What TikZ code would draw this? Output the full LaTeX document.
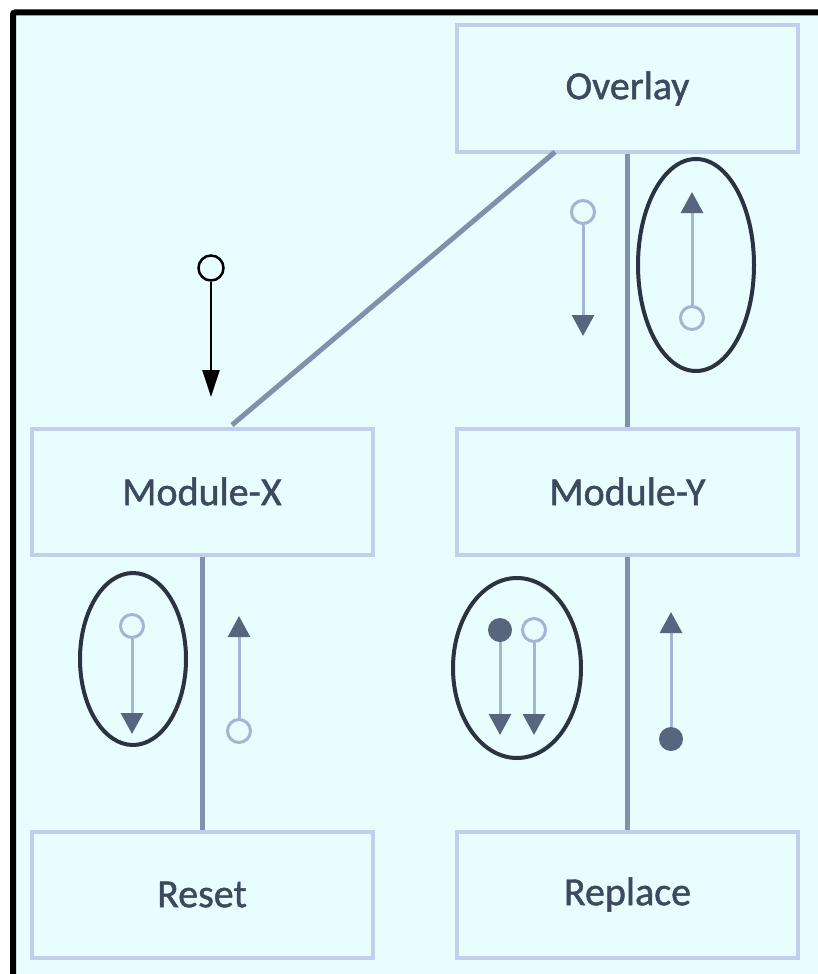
\documentclass[tikz,border=0pt]{standalone}
\usepackage{fontspec}
\setmainfont{Carlito}
\newfontfamily\boxfont[FakeBold=1.2]{Carlito}
\usetikzlibrary{arrows.meta}
\definecolor{bgc}{HTML}{E8FDFD}
\definecolor{boxc}{HTML}{C2CFEC}
\definecolor{conc}{HTML}{8190AD}
\definecolor{shaftc}{HTML}{A3B4D8}
\definecolor{headc}{HTML}{58657E}
\definecolor{ellc}{HTML}{2C3242}
\definecolor{txtc}{HTML}{3E495F}
\tikzset{
  box/.style={draw=boxc, line width=4pt, fill=bgc, minimum width=341pt, minimum height=126pt,
    text=txtc, font=\boxfont\fontsize{40}{48}\selectfont, inner sep=0pt},
  conn/.style={draw=conc, line width=5pt},
  opendot/.style={circle, draw=shaftc, line width=3pt, fill=bgc, minimum size=23pt, inner sep=0pt},
  fulldot/.style={circle, fill=headc, minimum size=24pt, inner sep=0pt},
  shaft/.style={draw=shaftc, line width=3pt, -{Triangle[width=22pt,length=21pt,fill=headc,color=headc]}},
  grp/.style={draw=ellc, line width=4pt},
  blackdot/.style={circle, draw=black, line width=2.5pt, fill=bgc, minimum size=25pt, inner sep=0pt},
}
\begin{document}
\begin{tikzpicture}[x=1pt,y=-1pt]
\useasboundingbox (0,0) rectangle (818,974);
\fill[white] (0,0) rectangle (818,974);
\draw[line width=6pt, fill=bgc, rounded corners=2pt] (13,12.5) rectangle (850,1000);

% boxes
\node[box] (overlay) at (627.5,88.5) {Overlay};
\node[box] (modx) at (202,491.5) {Module-X};
\node[box] (mody) at (627.5,491.5) {Module-Y};
\node[box] (reset) at (202,894.5) {Reset};
\node[box] (replace) at (627.5,894.5) {Replace};

% connectors
\coordinate (dA) at (555,152);
\coordinate (dB) at (232,425);
\draw[conn] (dA) -- (dB);
\draw[conn] (overlay.south) -- (mody.north);
\draw[conn] (modx.south) -- (reset.north);
\draw[conn] (mody.south) -- (replace.north);

% black arrow
\node[blackdot] (b0) at (211,268) {};
\coordinate (b1) at (211,397);
\draw[black, line width=2.5pt, -{Triangle[width=17pt,length=27pt]}] (b0.south) -- (b1);

% Overlay -> Module-Y annotations
\node[opendot] (o1) at (583,212) {};
\coordinate (o1t) at (583,336);
\draw[shaft] (o1.south) -- (o1t);
\draw[grp] (696,265) ellipse [x radius=58pt, y radius=106pt];
\node[opendot] (o2) at (692,318) {};
\coordinate (o2t) at (692,192);
\draw[shaft] (o2.north) -- (o2t);

% Module-X -> Reset annotations
\draw[grp] (133,659) ellipse [x radius=53pt, y radius=86pt];
\node[opendot] (x1) at (132,626) {};
\coordinate (x1t) at (132,734);
\draw[shaft] (x1.south) -- (x1t);
\node[opendot] (x2) at (239,731) {};
\coordinate (x2t) at (239,616);
\draw[shaft] (x2.north) -- (x2t);

% Module-Y -> Replace annotations
\draw[grp] (517,668) ellipse [x radius=64pt, y radius=90pt];
\node[fulldot] (y1) at (500,630) {};
\coordinate (y1t) at (500,735);
\draw[shaft] (y1.south) -- (y1t);
\node[opendot] (y2) at (534,630) {};
\coordinate (y2t) at (534,735);
\draw[shaft] (y2.south) -- (y2t);
\node[fulldot] (y3) at (671,739) {};
\coordinate (y3t) at (671,612);
\draw[shaft] (y3.north) -- (y3t);
\end{tikzpicture}
\end{document}
